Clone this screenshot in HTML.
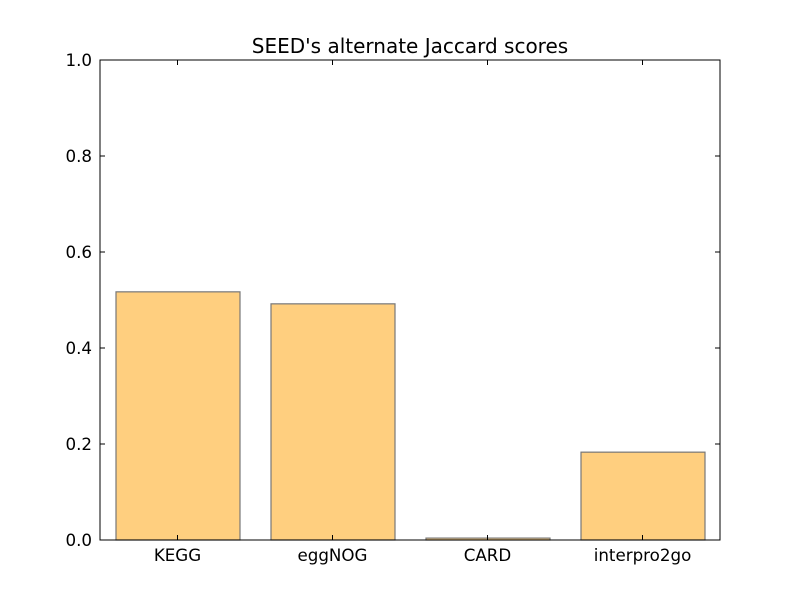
<!DOCTYPE html>
<html><head><meta charset="utf-8"><style>body{margin:0;background:#fff}svg{display:block}text{font-family:"DejaVu Sans","Liberation Sans",sans-serif}</style></head>
<body>
<svg id="chart" width="800" height="600">
<rect width="800" height="600" fill="#fff"/>
<text x="410" y="53" font-size="20" text-anchor="middle">SEED's alternate Jaccard scores</text>
<g id="bars"></g><g id="axes"></g>
</svg>
<script>
const categories = ["KEGG","eggNOG","CARD","interpro2go"];
const values = [0.517, 0.492, 0.004, 0.183];
const yTicks = [0,0.2,0.4,0.6,0.8,1.0];
const yTickLabels = ["0.0","0.2","0.4","0.6","0.8","1.0"];
const L=100,R=720,T=60,B=540;
const ns="http://www.w3.org/2000/svg";
const unit=(R-L)/categories.length;
const x=i=>L+(i+0.5)*unit;
const y=v=>B-(v/1.0)*(B-T);
const svg=document.getElementById('chart');
const bars=document.getElementById('bars');
const axes=document.getElementById('axes');
function mk(tag,attrs,parent){const e=document.createElementNS(ns,tag);for(const k in attrs)e.setAttribute(k,attrs[k]);parent.appendChild(e);return e;}
categories.forEach((c,i)=>{
  const w=unit*0.8;
  const r=mk('rect',{x:x(i)-w/2+0.5,y:y(values[i]),width:w,height:B-y(values[i]),fill:'#ffcf7f',stroke:'#777','stroke-width':1.2},bars);
  
  
  const t=mk('text',{x:x(i),y:B+21,'font-size':16.7,'text-anchor':'middle'},axes);
  t.textContent=c;
  
  
  mk('line',{x1:x(i),x2:x(i),y1:B,y2:B-5,stroke:'#000'},axes);
  mk('line',{x1:x(i),x2:x(i),y1:T,y2:T+5,stroke:'#000'},axes);
});
yTicks.forEach((v,i)=>{
  mk('line',{x1:L,x2:L+5,y1:y(v),y2:y(v),stroke:'#000'},axes);
  mk('line',{x1:R,x2:R-5,y1:y(v),y2:y(v),stroke:'#000'},axes);
  const t=mk('text',{x:L-8,y:y(v)+6,'font-size':16.7,'text-anchor':'end'},axes);
  t.textContent=yTickLabels[i];
  
  
});
const f=mk('rect',{x:L,y:T,width:R-L,height:B-T,fill:'none',stroke:'#000','stroke-width':1},axes);


</script>
</body></html>
